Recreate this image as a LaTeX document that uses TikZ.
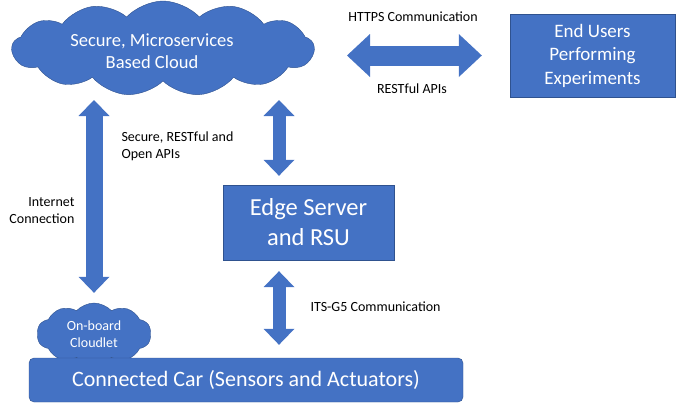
\documentclass[tikz,border=0pt]{standalone}
\usepackage{fontspec}
\setmainfont{Carlito}
\usetikzlibrary{shapes.symbols,arrows.meta}
\definecolor{officeblue}{HTML}{4472C4}
\definecolor{officeline}{HTML}{2F528F}

\begin{document}
\begin{tikzpicture}[x=1pt, y=-1pt,
    box/.style={rectangle, draw=officeline, fill=officeblue, text=white, align=center, inner sep=0pt},
    puff/.style={cloud, cloud ignores aspect, cloud puff arc=95, draw=officeline, fill=officeblue, text=white, align=center, inner sep=0pt},
    tiny/.style={font=\fontsize{14}{17}\selectfont},
    link/.style={draw=officeblue, line width=#1,
        {Triangle[width=31pt,length=16pt,line width=0pt]}-{Triangle[width=31pt,length=16pt,line width=0pt]}},
    hlink/.style={draw=officeblue, line width=20pt,
        {Triangle[width=43pt,length=23pt,line width=0pt]}-{Triangle[width=43pt,length=23pt,line width=0pt]}}
]
    \useasboundingbox (0,0) rectangle (683,405);

    % Clouds
    \node[puff, cloud puffs=13, minimum width=302pt, minimum height=95pt] (cloud) at (163,48.5) {};
    \node[text=white, align=center, font=\fontsize{18.5}{22}\selectfont] (cloudtext) at (152,51) {Secure, Microservices\\Based Cloud};
    \node[puff, cloud puffs=10, minimum width=114pt, minimum height=62pt, font=\fontsize{14}{17}\selectfont] (cloudlet) at (94,334) {On-board\\Cloudlet};

    % Boxes
    \node[box, minimum width=165pt, minimum height=83pt, font=\fontsize{19}{23.5}\selectfont] (users) at (592.5,55.5) {End Users\\Performing\\Experiments};
    \node[box, minimum width=171pt, minimum height=75pt, font=\fontsize{24.5}{30}\selectfont] (edge) at (308.5,222.5) {Edge Server\\and RSU};
    \node[box, rounded corners=5pt, minimum width=434pt, minimum height=44pt, font=\fontsize{22}{26}\selectfont] (car) at (246,380) {Connected Car (Sensors and Actuators)};

    % Labels
    \node[tiny] (https) at (413,17) {HTTPS Communication};
    \node[tiny] (restful) at (412,89) {RESTful APIs};
    \node[tiny, anchor=east, align=right] (internet) at (78,210.5) {Internet\\Connection};
    \node[tiny, anchor=west, align=left] (apis) at (118,146.5) {Secure, RESTful and\\Open APIs};
    \node[tiny, anchor=west] (its) at (307,307) {ITS-G5 Communication};

    % Arrows
    \coordinate (apix) at (279,0);
    \draw[link=17pt, shorten <=51.5pt, shorten >=10pt] (cloud.center -| cloudlet.north) -- (cloudlet.north);
    \draw[link=13pt, shorten <=51.5pt, shorten >=9pt] (cloud.center -| apix) -- (edge.north -| apix);
    \draw[link=13pt, shorten <=11pt, shorten >=13pt] (edge.south -| apix) -- (car.north -| apix);
    \draw[hlink, shorten <=184pt, shorten >=28pt] (cloud.center |- users.west) -- (users.west);
\end{tikzpicture}
\end{document}
